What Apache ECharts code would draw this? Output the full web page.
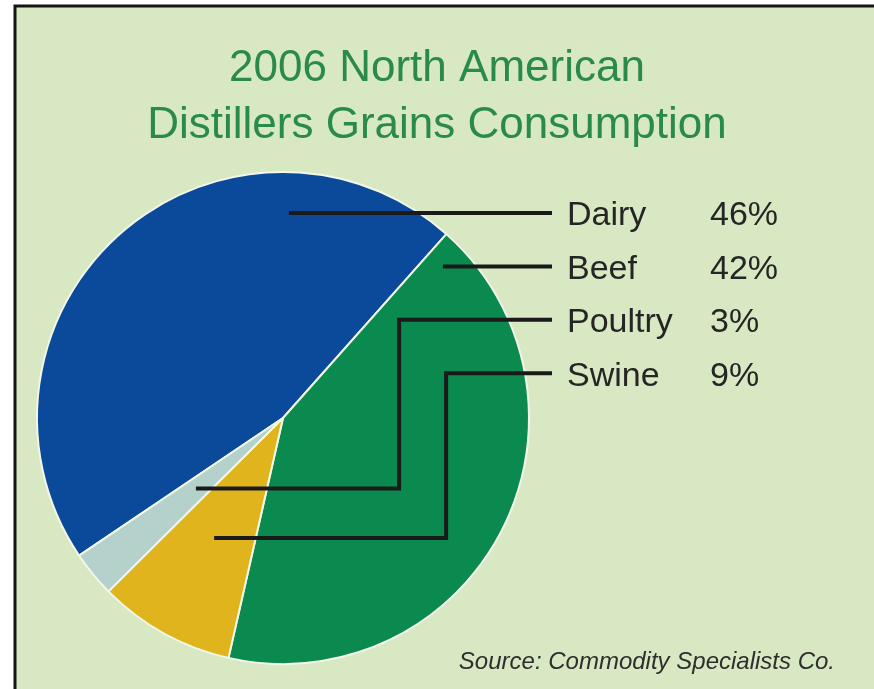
<!DOCTYPE html>
<html>
<head>
<meta charset="utf-8">
<script src="https://cdn.jsdelivr.net/npm/echarts@6/dist/echarts.min.js"></script>
<style>
  html, body { margin: 0; padding: 0; background: #fff; }
  #chart { width: 874px; height: 689px; }
</style>
</head>
<body>
<div id="chart"></div>
<script>
// legend rows, top to bottom
var categories = ['Dairy', 'Beef', 'Poultry', 'Swine'];
var shares = [46, 42, 3, 9];
// order the slices go round the pie, clockwise
var sliceOrder = ['Dairy', 'Beef', 'Swine', 'Poultry'];
var sliceColors = { Dairy: '#0b4a9b', Beef: '#0b8a4f', Swine: '#dfb41d', Poultry: '#b4d1cc' };

var bg = '#d7e8c2';
var font = 'Liberation Sans, Arial, sans-serif';
var cx = 283, cy = 418, R = 246;   // pie centre / radius
var lineEndX = 552, textX = 567;
var rowTop = 213, rowGap = 53.4;

// where each leader starts, in radius units from the centre, and its elbow x (if any)
var anchors = {
    Dairy:   { p: [0.024, -0.833] },
    Beef:    { p: [0.65, -0.61] },
    Poultry: { p: [-0.354, 0.287], elbow: 0.472 },
    Swine:   { p: [-0.28, 0.488], elbow: 0.663 }
};

function pieData(filled) {
    return sliceOrder.map(function (name) {
        var i = categories.indexOf(name);
        return {
            name: name,
            value: shares[i],
            itemStyle: { color: filled ? sliceColors[name] : 'rgba(0,0,0,0)' }
        };
    });
}

var chart = echarts.init(document.getElementById('chart'));
var option = {
    backgroundColor: '#ffffff',
    animation: false,
    title: [{
        text: '2006 North American\nDistillers Grains Consumption',
        left: 'center',
        top: 35,
        textStyle: {
            fontFamily: font,
            fontSize: 44,
            fontWeight: 'normal',
            lineHeight: 57,
            color: '#2a8a4c'
        }
    }, {
        text: 'Source: Commodity Specialists Co.',
        right: 34,
        bottom: 10,
        textStyle: {
            fontFamily: font,
            fontSize: 24,
            fontStyle: 'italic',
            fontWeight: 'normal',
            color: '#2e2e2e'
        }
    }],
    graphic: [{
        type: 'rect',
        z: -10,
        shape: { x: 15, y: 6, width: 900, height: 720 },
        style: { fill: bg, stroke: '#141414', lineWidth: 3 }
    }],
    series: [{
        // the coloured slices
        type: 'pie',
        z: 2,
        center: [cx, cy],
        radius: R,
        startAngle: 214,
        clockwise: true,
        silent: true,
        itemStyle: { borderColor: '#f2f7ea', borderWidth: 2 },
        label: { show: false },
        labelLine: { show: false },
        data: pieData(true)
    }, {
        // same pie, invisible, carrying the labels and leaders on top
        type: 'pie',
        z: 5,
        center: [cx, cy],
        radius: R,
        startAngle: 214,
        clockwise: true,
        avoidLabelOverlap: false,
        silent: true,
        itemStyle: { borderWidth: 0 },
        label: {
            show: true,
            position: 'outside',
            formatter: '{n|{b}}{v|{c}%}',
            rich: {
                n: { width: 143, fontSize: 34, color: '#252525', fontFamily: font },
                v: { fontSize: 34, color: '#252525', fontFamily: font }
            }
        },
        labelLine: {
            show: true,
            smooth: false,
            lineStyle: { color: '#1a1a1a', width: 4 }
        },
        labelLayout: function (params) {
            var name = sliceOrder[params.dataIndex];
            var row = categories.indexOf(name);
            var y = rowTop + row * rowGap;
            var a = anchors[name];
            var ax = cx + a.p[0] * R, ay = cy + a.p[1] * R;
            var pts;
            if (a.elbow != null) {
                var ex = cx + a.elbow * R;
                pts = [[ax, ay], [ex, ay], [ex, y], [lineEndX, y]];
            } else {
                pts = [[ax, y], [lineEndX, y]];
            }
            return {
                x: textX,
                y: y + 3,
                align: 'left',
                verticalAlign: 'middle',
                labelLinePoints: pts
            };
        },
        data: pieData(false)
    }]
};
chart.setOption(option);
</script>
</body>
</html>
